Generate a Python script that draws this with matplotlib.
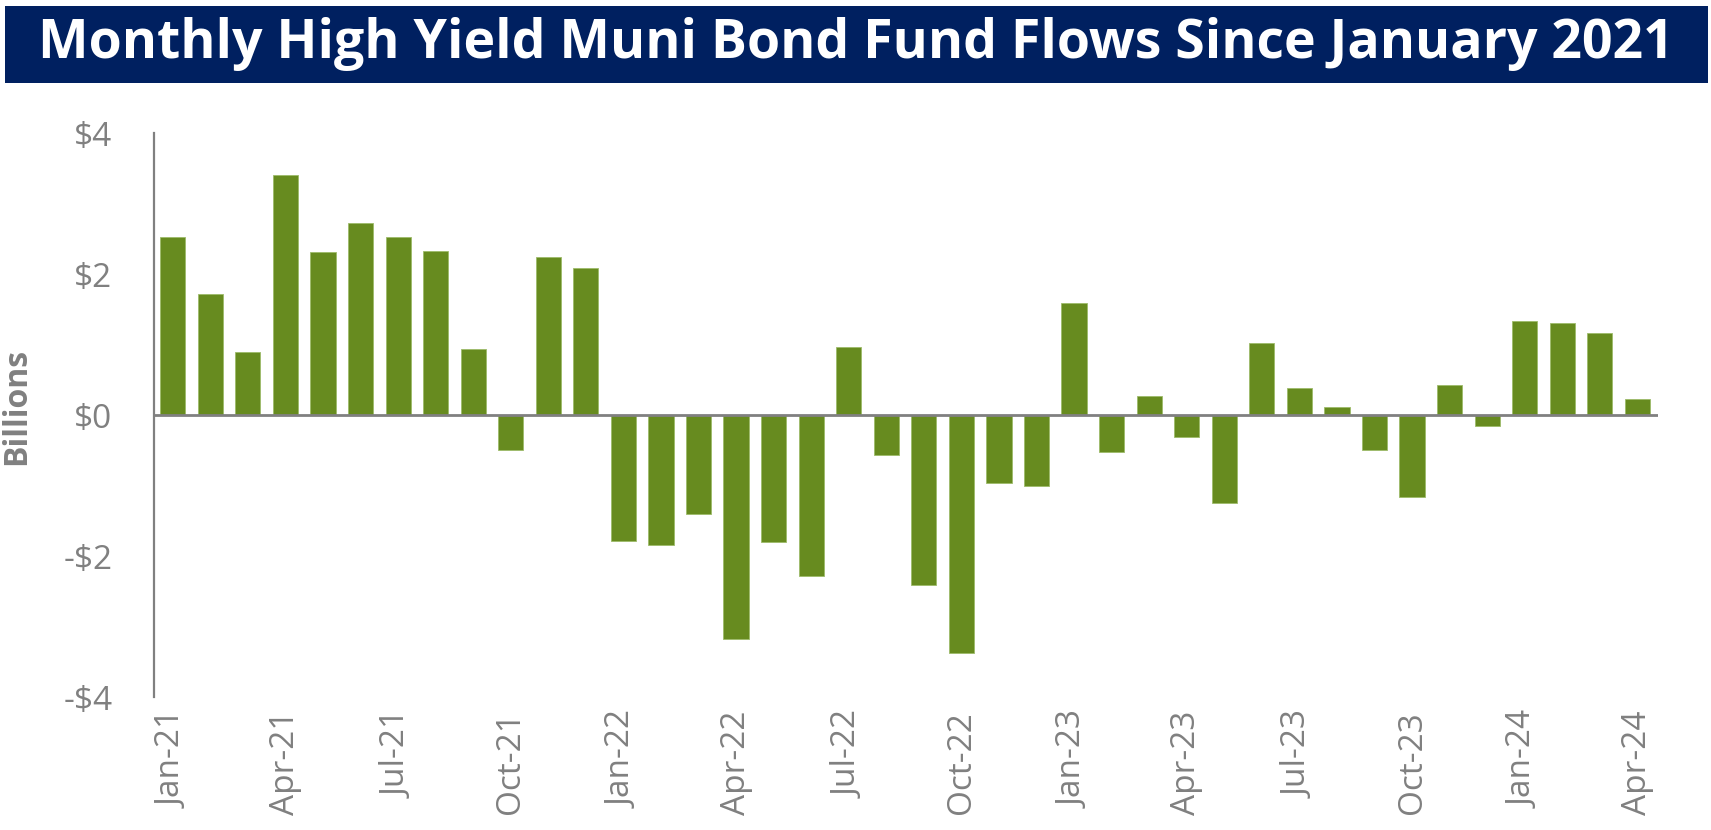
import matplotlib
matplotlib.use("Agg")
import matplotlib.pyplot as plt
from matplotlib.patches import Rectangle

# Monthly high yield muni bond fund flows, $ billions
months = [
    "Jan-21", "Feb-21", "Mar-21", "Apr-21", "May-21", "Jun-21", "Jul-21", "Aug-21",
    "Sep-21", "Oct-21", "Nov-21", "Dec-21",
    "Jan-22", "Feb-22", "Mar-22", "Apr-22", "May-22", "Jun-22", "Jul-22", "Aug-22",
    "Sep-22", "Oct-22", "Nov-22", "Dec-22",
    "Jan-23", "Feb-23", "Mar-23", "Apr-23", "May-23", "Jun-23", "Jul-23", "Aug-23",
    "Sep-23", "Oct-23", "Nov-23", "Dec-23",
    "Jan-24", "Feb-24", "Mar-24", "Apr-24",
]
flows = [
    2.53, 1.71, 0.89, 3.40, 2.31, 2.73, 2.52, 2.32, 0.94, -0.49, 2.24, 2.09,
    -1.79, -1.85, -1.40, -3.18, -1.80, -2.28, 0.97, -0.57, -2.41, -3.38, -0.97, -1.00,
    1.59, -0.52, 0.27, -0.31, -1.25, 1.02, 0.38, 0.12, -0.49, -1.16, 0.43, -0.15,
    1.33, 1.30, 1.16, 0.23,
]
y_ticks = [-4, -2, 0, 2, 4]
y_tick_labels = ["-$4", "-$2", "$0", "$2", "$4"]
title = "Monthly High Yield Muni Bond Fund Flows Since January 2021"

W, H = 1711, 830
fig = plt.figure(figsize=(W / 100, H / 100), dpi=100)
fig.patch.set_facecolor("white")

# Title banner
fig.patches.append(Rectangle((5 / W, 1 - 83 / H), 1703 / W, 77 / H,
                             transform=fig.transFigure, facecolor="#002060",
                             edgecolor="none", zorder=0))
fig.text(0.5, 1 - 44 / H, title, ha="center", va="center", color="white",
         fontsize=38.6, fontweight="bold", family="Open Sans")

ax = fig.add_axes([154 / W, 1 - 697 / H, (1658 - 154) / W, (697 - 133) / H])

gray = "#808080"
x = list(range(len(flows)))
ax.bar(x, flows, width=0.67, color="#678B1F", edgecolor="#9DBB6A",
       linewidth=0.6, zorder=2)
ax.axhline(0, color=gray, linewidth=2.0, zorder=3)

ax.set_xlim(-0.5, len(flows) - 0.45)
ax.set_ylim(-4, 4)

for s in ["top", "right", "bottom"]:
    ax.spines[s].set_visible(False)
ax.spines["left"].set_color(gray)
ax.spines["left"].set_linewidth(1.6)

ax.set_yticks(y_ticks)
ax.set_yticklabels(y_tick_labels)
ax.set_xticks(x[::3])
ax.set_xticklabels(months[::3], rotation=90)
ax.tick_params(axis="both", length=0, colors=gray, labelsize=24)
ax.tick_params(axis="y", pad=30)
ax.tick_params(axis="x", pad=10)
for lbl in ax.get_xticklabels() + ax.get_yticklabels():
    lbl.set_family("Open Sans")

ax.set_ylabel("Billions", color=gray, fontsize=23, fontweight="bold",
              family="Open Sans")
ax.yaxis.set_label_coords(-121 / (1658 - 154), 0.516)

fig.savefig("out.png", dpi=100)
